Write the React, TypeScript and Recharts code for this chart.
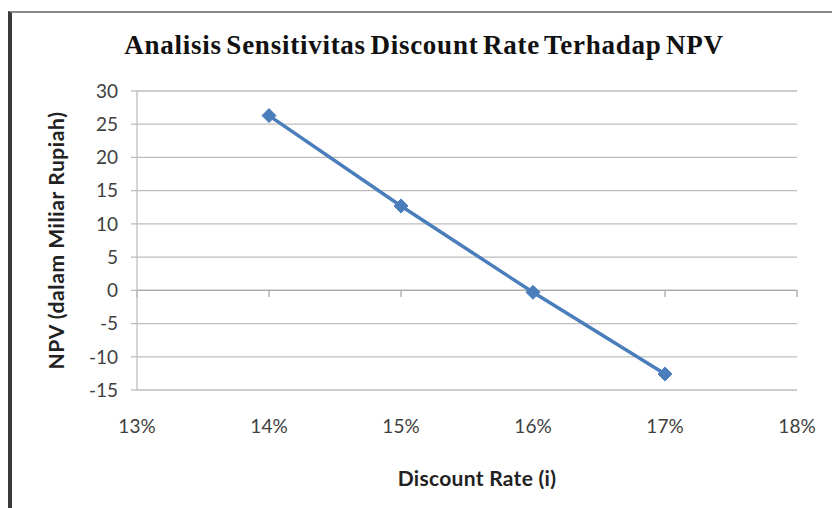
import { LineChart, Line, XAxis, YAxis, CartesianGrid, ReferenceLine, Label } from 'recharts';

// Discount rate (%) vs NPV (miliar rupiah)
const rates = [14, 15, 16, 17];
const npv = [26.3, 12.7, -0.3, -12.6];
const xTicks = [13, 14, 15, 16, 17, 18];
const yTicks = [-15, -10, -5, 0, 5, 10, 15, 20, 25, 30];

const chartData = rates.map((r, i) => ({ rate: r, npv: npv[i] }));

const axisFont = 'Lato, "Open Sans", sans-serif';

function Diamond(props: any) {
    const { cx, cy, index } = props;
    const s = 7;
    return (
        <polygon
            key={`d-${index}`}
            points={`${cx},${cy - s} ${cx + s},${cy} ${cx},${cy + s} ${cx - s},${cy}`}
            fill="#4a7ebb"
            stroke="#4a7ebb"
            strokeWidth={1}
        />
    );
}

export default function App() {
    return (
        <div style={{ position: 'fixed', left: 0, top: 0, width: 832, height: 508, background: '#fff' }}>
            <div
                style={{
                    position: 'absolute',
                    left: 8,
                    top: 11,
                    right: 0,
                    bottom: 0,
                    borderLeft: '4px solid #3a3a3a',
                    borderTop: '2px solid #888',
                }}
            />
            <div
                style={{
                    position: 'absolute',
                    left: 0,
                    top: 32,
                    width: 848,
                    textAlign: 'center',
                    fontFamily: '"Liberation Serif", serif',
                    fontWeight: 'bold',
                    fontSize: 27,
                    lineHeight: '27px',
                    letterSpacing: 0.75,
                    wordSpacing: -3,
                    color: '#111',
                }}
            >
                Analisis Sensitivitas Discount Rate Terhadap NPV
            </div>
            <LineChart
                width={832}
                height={508}
                data={chartData}
                margin={{ top: 91, right: 35, bottom: 0, left: 0 }}
                style={{ position: 'absolute', left: 0, top: 0 }}
            >
                <CartesianGrid vertical={false} stroke="#bdbdbd" strokeWidth={1.3} />
                <XAxis
                    dataKey="rate"
                    type="number"
                    domain={[13, 18]}
                    ticks={xTicks}
                    tickFormatter={(v) => `${v}%`}
                    axisLine={false}
                    tickLine={false}
                    height={118}
                    tickMargin={24}
                    tick={{ fill: '#404040', fontSize: 19, fontFamily: axisFont }}
                >
                    <Label
                        value="Discount Rate (i)"
                        position="insideBottom"
                        offset={22}
                        dx={10}
                        style={{ fill: '#222', fontSize: 21, fontWeight: 'bold', letterSpacing: 0.3, fontFamily: axisFont }}
                    />
                </XAxis>
                <YAxis
                    type="number"
                    domain={[-15, 30]}
                    ticks={yTicks}
                    width={137}
                    axisLine={{ stroke: '#bdbdbd', strokeWidth: 1.3 }}
                    tickLine={{ stroke: '#bdbdbd', strokeWidth: 1.3 }}
                    tickSize={6}
                    tickMargin={13}
                    tick={{ fill: '#404040', fontSize: 19, fontFamily: axisFont }}
                >
                    <Label
                        value="NPV (dalam Miliar Rupiah)"
                        angle={-90}
                        position="center"
                        dx={-12}
                        style={{ fill: '#222', fontSize: 21, fontWeight: 'bold', letterSpacing: 0.6, fontFamily: axisFont, textAnchor: 'middle' }}
                    />
                </YAxis>
                <ReferenceLine y={0} stroke="#a8a8a8" strokeWidth={1.3} />
                {xTicks.map((t) => (
                    <ReferenceLine
                        key={`t-${t}`}
                        segment={[{ x: t, y: 0 }, { x: t, y: -1 }]}
                        stroke="#a8a8a8"
                        strokeWidth={1.3}
                    />
                ))}
                <Line
                    type="linear"
                    dataKey="npv"
                    stroke="#4a7ebb"
                    strokeWidth={3.5}
                    dot={(p: any) => <Diamond {...p} />}
                    activeDot={false}
                    isAnimationActive={false}
                />
            </LineChart>
        </div>
    );
}
